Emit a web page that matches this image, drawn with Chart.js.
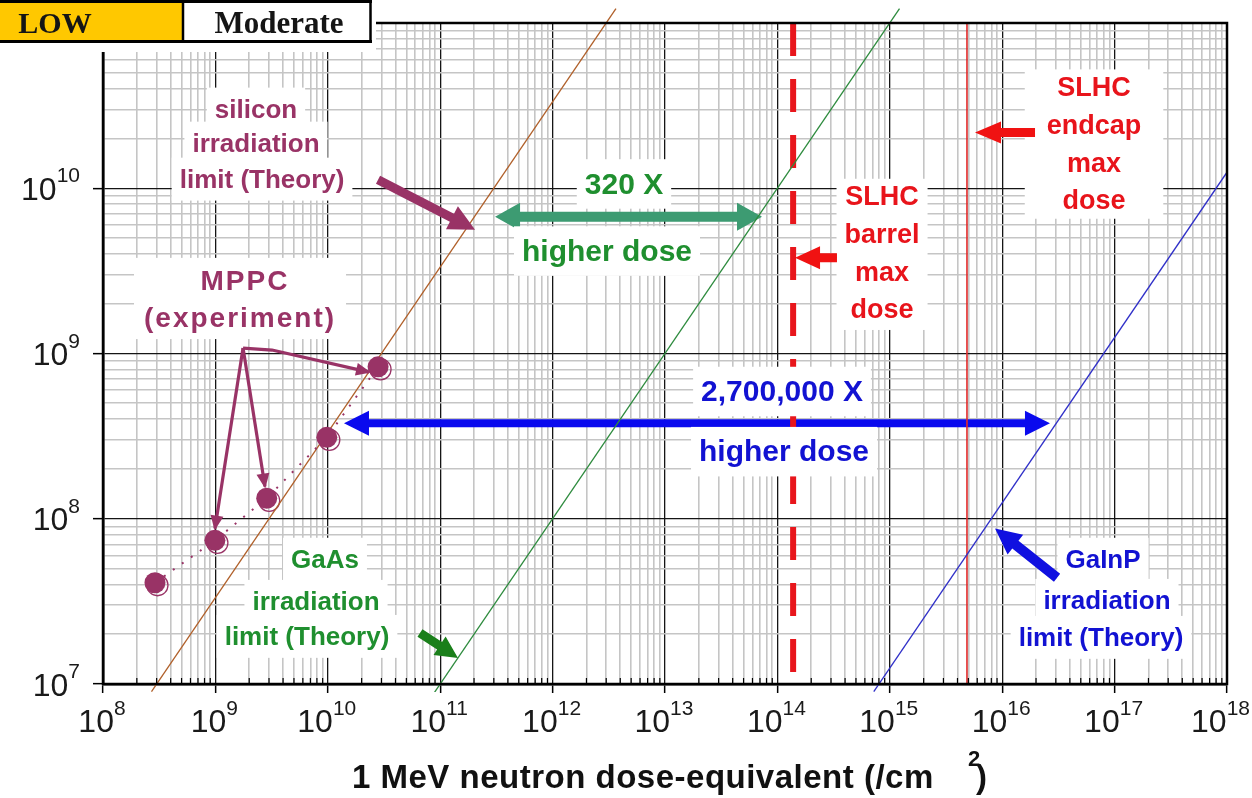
<!DOCTYPE html>
<html>
<head>
<meta charset="utf-8">
<title>Irradiation limits vs 1 MeV neutron dose</title>
<script src="https://cdn.jsdelivr.net/npm/chart.js@4.4.1/dist/chart.umd.min.js"></script>
<style>
html,body{margin:0;padding:0;background:#fff;}
#wrap{width:1252px;height:798px;}
canvas{display:block;}
</style>
</head>
<body>
<div id="wrap"><canvas id="chart" width="1252" height="798"></canvas></div>
<script>
// ---------- data ----------
const xTickExponents = [8, 9, 10, 11, 12, 13, 14, 15, 16, 17, 18];
const yTickExponents = [7, 8, 9, 10];
const yTopExponent = 11;
const minorSteps = [2, 3, 4, 5, 6, 7, 8, 9];

const mppcDose  = [2.9e8, 9.9e8, 2.86e9, 9.8e9, 2.8e10];
const mppcLimit = [4.1e7, 7.4e7, 1.33e8, 3.11e8, 8.3e8];

const siliconDose  = [2.7e8, 3.66e12];
const siliconLimit = [9.0e6, 1.22e11];
const gaasDose  = [8.5e10, 1.22e15];
const gaasLimit = [8.5e6, 1.22e11];
const gainpDose  = [7.2e14, 1.0e18];
const gainpLimit = [9.0e6, 1.25e10];

const barrelMaxDose = [1.38e14, 1.38e14];
const endcapMaxDose = [4.86e15, 4.86e15];
const doseLineSpan  = [1e11, 1e7];

const tableCells = ['LOW', 'Moderate'];
const axisTitle = '1 MeV neutron dose-equivalent (/cm';

// ---------- annotation config (positions in log10 data units) ----------
const FONT = '"Liberation Sans", Arial, Helvetica, sans-serif';
const SERIF = '"Liberation Serif", "Times New Roman", serif';
const PURPLE = '#993366', GREEN_T = '#1f8f2f', BLUE_T = '#1212d2', RED_T = '#e8141b';

const textBlocks = [
  {color: PURPLE, size: 26, box: 'line', lines: [['silicon', 9.361, 10.428], ['irradiation', 9.361, 10.222], ['limit (Theory)', 9.415, 10.004]]},
  {color: PURPLE, size: 28, spacing: 2, box: 'block', padX: 10, padTop: 32, padBottom: 12, lines: [['MPPC', 9.263, 9.385], ['(experiment)', 9.219, 9.160]]},
  {color: GREEN_T, size: 30, box: 'line', lines: [['320 X', 12.635, 9.967]]},
  {color: GREEN_T, size: 30, box: 'line', lines: [['higher dose', 12.484, 9.561]]},
  {color: BLUE_T, size: 30, box: 'line', lines: [['2,700,000 X', 14.041, 8.711]]},
  {color: BLUE_T, size: 30, box: 'line', lines: [['higher dose', 14.059, 8.347]]},
  {color: RED_T, size: 27, box: 'block', padX: 8, padTop: 26, padBottom: 12, lines: [['SLHC', 14.931, 9.900], ['barrel', 14.931, 9.670], ['max', 14.931, 9.439], ['dose', 14.931, 9.215]]},
  {color: RED_T, size: 27, box: 'block', padX: 22, padTop: 27, padBottom: 10, lines: [['SLHC', 16.817, 10.556], ['endcap', 16.817, 10.331], ['max', 16.817, 10.101], ['dose', 16.817, 9.876]]},
  {color: GREEN_T, size: 26, box: 'line', lines: [['GaAs', 9.975, 7.704], ['irradiation', 9.895, 7.449], ['limit (Theory)', 9.815, 7.237]]},
  {color: BLUE_T, size: 26, box: 'line', lines: [['GaInP', 16.897, 7.704], ['irradiation', 16.932, 7.455], ['limit (Theory)', 16.879, 7.231]]}
];

const fatArrows = [
  {from: [10.447, 10.052], to: [11.310, 9.749], color: PURPLE, shaft: 9, headLen: 26, headW: 26, layer: 'over'},
  {from: [11.488, 9.828], to: [13.863, 9.828], color: '#3d9b72', shaft: 10, headLen: 25, headW: 28, both: true, layer: 'under'},
  {from: [10.144, 8.578], to: [16.425, 8.578], color: '#0a0aee', shaft: 8, headLen: 25, headW: 25, both: true, layer: 'under'},
  {from: [16.292, 10.337], to: [15.758, 10.337], color: '#f01212', shaft: 9, headLen: 26, headW: 22, layer: 'over'},
  {from: [14.530, 9.579], to: [14.157, 9.579], color: '#f01212', shaft: 9, headLen: 25, headW: 23, layer: 'over'},
  {from: [10.820, 7.309], to: [11.158, 7.158], color: '#1a7f1a', shaft: 9, headLen: 22, headW: 22, layer: 'over'},
  {from: [16.488, 7.643], to: [15.936, 7.941], color: '#1010e0', shaft: 10, headLen: 26, headW: 25, layer: 'over'}
];

const thinArrows = [
  [[9.246, 9.033], [9.504, 9.021], [10.367, 8.887]],
  [[9.246, 9.033], [8.996, 7.941]],
  [[9.246, 9.033], [9.441, 8.195]]
];

// ---------- helpers ----------
function pairs(xs, ys) { return xs.map((x, i) => ({x: x, y: ys[i]})); }

function tickList(exps, topExp) {
  const t = [];
  exps.forEach(e => {
    t.push({value: Math.pow(10, e), major: true});
    minorSteps.forEach(m => t.push({value: m * Math.pow(10, e), major: false}));
  });
  if (topExp !== undefined) t.push({value: Math.pow(10, topExp), major: true});
  return t;
}
const xTicks = tickList(xTickExponents.slice(0, -1), xTickExponents[xTickExponents.length - 1]);
const yTicks = tickList(yTickExponents, yTopExponent);

function toPx(chart, p) {
  return [chart.scales.x.getPixelForValue(Math.pow(10, p[0])), chart.scales.y.getPixelForValue(Math.pow(10, p[1]))];
}

function fatArrow(ctx, a, b, o) {
  const dx = b[0] - a[0], dy = b[1] - a[1], L = Math.hypot(dx, dy);
  const ux = dx / L, uy = dy / L, nx = -uy, ny = ux;
  const s = o.shaft / 2, h = o.headW / 2, hl = o.headLen;
  const pts = [];
  const sbx = a[0] + ux * hl, sby = a[1] + uy * hl;
  if (o.both) pts.push([a[0], a[1]], [sbx + nx * h, sby + ny * h], [sbx + nx * s, sby + ny * s]);
  else pts.push([a[0] + nx * s, a[1] + ny * s]);
  const ex = b[0] - ux * hl, ey = b[1] - uy * hl;
  pts.push([ex + nx * s, ey + ny * s], [ex + nx * h, ey + ny * h], [b[0], b[1]], [ex - nx * h, ey - ny * h], [ex - nx * s, ey - ny * s]);
  if (o.both) pts.push([sbx - nx * s, sby - ny * s], [sbx - nx * h, sby - ny * h]);
  else pts.push([a[0] - nx * s, a[1] - ny * s]);
  ctx.beginPath();
  pts.forEach((p, i) => i ? ctx.lineTo(p[0], p[1]) : ctx.moveTo(p[0], p[1]));
  ctx.closePath();
  ctx.fillStyle = o.color;
  ctx.fill();
}

function thinArrow(ctx, pts) {
  ctx.beginPath();
  pts.forEach((p, i) => i ? ctx.lineTo(p[0], p[1]) : ctx.moveTo(p[0], p[1]));
  ctx.strokeStyle = PURPLE; ctx.lineWidth = 3.2; ctx.lineJoin = 'miter';
  ctx.stroke();
  const b = pts[pts.length - 1], a = pts[pts.length - 2];
  const dx = b[0] - a[0], dy = b[1] - a[1], L = Math.hypot(dx, dy);
  const ux = dx / L, uy = dy / L, nx = -uy, ny = ux;
  const hl = 13, h = 6.5;
  const ex = b[0] - ux * hl, ey = b[1] - uy * hl;
  ctx.beginPath();
  ctx.moveTo(b[0] + ux * 2, b[1] + uy * 2);
  ctx.lineTo(ex + nx * h, ey + ny * h);
  ctx.lineTo(ex - nx * h, ey - ny * h);
  ctx.closePath();
  ctx.fillStyle = PURPLE; ctx.fill();
}

function setFont(ctx, blk) {
  ctx.font = 'bold ' + blk.size + 'px ' + FONT;
  ctx.letterSpacing = (blk.spacing || 0) + 'px';
}

const gridColor = c => (c.tick && c.tick.major) ? '#151515' : '#c5c5c5';
const gridWidth = c => (c.tick && c.tick.major) ? 1.3 : 1.6;
const tickColor = c => (c.tick && c.tick.major) ? '#000' : 'rgba(0,0,0,0)';

const decorations = {
  id: 'decorations',
  beforeDatasetsDraw(chart) {
    const ctx = chart.ctx;
    ctx.save();
    fatArrows.filter(a => a.layer === 'under').forEach(a => fatArrow(ctx, toPx(chart, a.from), toPx(chart, a.to), a));
    const meta = chart.getDatasetMeta(0);
    meta.data.forEach(el => {
      ctx.beginPath();
      ctx.arc(el.x + 2.5, el.y + 2.5, 10.5, 0, Math.PI * 2);
      ctx.strokeStyle = PURPLE; ctx.lineWidth = 1.3; ctx.stroke();
    });
    ctx.restore();
  },
  afterDatasetsDraw(chart) {
    const ctx = chart.ctx;
    const area = chart.chartArea;
    const xs = chart.scales.x, ys = chart.scales.y;
    ctx.save();

    // white label backgrounds
    textBlocks.forEach(blk => {
      setFont(ctx, blk);
      const items = blk.lines.map(l => {
        const p = toPx(chart, [l[1], l[2]]);
        const w = ctx.measureText(l[0]).width;
        return {t: l[0], x: p[0], y: p[1], w: w};
      });
      blk._items = items;
      ctx.fillStyle = '#fff';
      if (blk.box === 'block') {
        let l = Infinity, r = -Infinity;
        items.forEach(it => { l = Math.min(l, it.x - it.w / 2); r = Math.max(r, it.x + it.w / 2); });
        const top = items[0].y - blk.padTop, bot = items[items.length - 1].y + blk.padBottom;
        ctx.fillRect(l - blk.padX, top, r - l + 2 * blk.padX, bot - top);
      } else {
        items.forEach(it => {
          ctx.fillRect(it.x - it.w / 2 - 8, it.y - blk.size * 1.15, it.w + 16, blk.size * 1.65);
        });
      }
    });
    // label texts
    textBlocks.forEach(blk => {
      setFont(ctx, blk);
      ctx.fillStyle = blk.color;
      ctx.textAlign = 'center';
      ctx.textBaseline = 'alphabetic';
      blk._items.forEach(it => ctx.fillText(it.t, it.x, it.y));
    });
    ctx.letterSpacing = '0px';

    // arrows on top
    fatArrows.filter(a => a.layer === 'over').forEach(a => fatArrow(ctx, toPx(chart, a.from), toPx(chart, a.to), a));
    thinArrows.forEach(pts => thinArrow(ctx, pts.map(p => toPx(chart, p))));

    // inner minor ticks on the x axis
    ctx.strokeStyle = '#000'; ctx.lineWidth = 1.2;
    xs.ticks.forEach(t => {
      if (t.major) return;
      const px = xs.getPixelForValue(t.value);
      ctx.beginPath(); ctx.moveTo(px, area.bottom); ctx.lineTo(px, area.bottom - 6); ctx.stroke();
    });
    // frame
    ctx.lineWidth = 2.5; ctx.strokeStyle = '#000';
    ctx.strokeRect(area.left, area.top, area.right - area.left, area.bottom - area.top);

    // tick labels with superscripts
    const EXP = '21px ' + FONT, BASE = '32px ' + FONT;
    ctx.fillStyle = '#1a1a1a';
    ctx.textBaseline = 'alphabetic';
    xTickExponents.forEach(e => {
      const px = xs.getPixelForValue(Math.pow(10, e));
      ctx.font = BASE; const w1 = ctx.measureText('10').width;
      ctx.font = EXP; const w2 = ctx.measureText(String(e)).width;
      let x0 = px - (w1 + w2) / 2 - 1;
      if (x0 + w1 + w2 > chart.width - 2) x0 = chart.width - 2 - w1 - w2;
      ctx.textAlign = 'left';
      ctx.font = BASE; ctx.fillText('10', x0, area.bottom + 47.5);
      ctx.font = EXP; ctx.fillText(String(e), x0 + w1, area.bottom + 31);
    });
    yTickExponents.forEach(e => {
      const py = ys.getPixelForValue(Math.pow(10, e));
      const right = area.left - 23;
      ctx.font = EXP; const w2 = ctx.measureText(String(e)).width;
      ctx.textAlign = 'right';
      ctx.fillText(String(e), right, py - 6);
      ctx.font = BASE; ctx.fillText('10', right - w2, py + 11.7);
    });

    // axis title
    ctx.textAlign = 'left';
    ctx.fillStyle = '#111';
    ctx.font = 'bold 33px ' + FONT;
    ctx.letterSpacing = '0.5px';
    ctx.fillText(axisTitle, 352, 788);
    ctx.letterSpacing = '0px';
    ctx.font = 'bold 22px ' + FONT;
    ctx.fillText('2', 968, 766);
    ctx.font = 'bold 33px ' + FONT;
    ctx.fillText(')', 976, 788);

    // LOW / Moderate table
    ctx.fillStyle = '#fff'; ctx.fillRect(0, 0, 376, 52);
    ctx.fillStyle = '#ffc800'; ctx.fillRect(0, 2, 183, 39);
    ctx.strokeStyle = '#000';
    ctx.lineWidth = 3;
    ctx.beginPath(); ctx.moveTo(0, 1.5); ctx.lineTo(372, 1.5); ctx.stroke();
    ctx.beginPath(); ctx.moveTo(0, 41.5); ctx.lineTo(372, 41.5); ctx.stroke();
    ctx.lineWidth = 2.5;
    ctx.beginPath(); ctx.moveTo(183, 0); ctx.lineTo(183, 42); ctx.stroke();
    ctx.beginPath(); ctx.moveTo(370.5, 0); ctx.lineTo(370.5, 43); ctx.stroke();
    ctx.fillStyle = '#151515';
    ctx.textAlign = 'center';
    ctx.font = 'bold 30px ' + SERIF;
    ctx.fillText(tableCells[0], 55, 33);
    ctx.font = 'bold 31px ' + SERIF;
    ctx.fillText(tableCells[1], 279, 33);

    ctx.restore();
  }
};

const lineClip = {left: 0, top: 15, right: 0, bottom: 8};

new Chart(document.getElementById('chart'), {
  type: 'scatter',
  data: {
    datasets: [
      {label: 'MPPC (experiment)', data: pairs(mppcDose, mppcLimit), showLine: true,
       borderColor: PURPLE, borderWidth: 2, borderDash: [2, 9], pointRadius: 10.5,
       pointBackgroundColor: PURPLE, pointBorderColor: PURPLE, pointBorderWidth: 0},
      {label: 'silicon irradiation limit (Theory)', data: pairs(siliconDose, siliconLimit), showLine: true,
       borderColor: '#b0602a', borderWidth: 1.3, pointRadius: 0, clip: lineClip},
      {label: 'GaAs irradiation limit (Theory)', data: pairs(gaasDose, gaasLimit), showLine: true,
       borderColor: '#2e8b3e', borderWidth: 1.3, pointRadius: 0, clip: lineClip},
      {label: 'GaInP irradiation limit (Theory)', data: pairs(gainpDose, gainpLimit), showLine: true,
       borderColor: '#3030c8', borderWidth: 1.3, pointRadius: 0, clip: lineClip},
      {label: 'SLHC barrel max dose', data: pairs(barrelMaxDose, doseLineSpan), showLine: true,
       borderColor: '#e8161c', borderWidth: 6, borderDash: [33, 23], borderCapStyle: 'butt', pointRadius: 0},
      {label: 'SLHC endcap max dose', data: pairs(endcapMaxDose, doseLineSpan), showLine: true,
       borderColor: '#e02a2a', borderWidth: 1.6, pointRadius: 0}
    ]
  },
  options: {
    responsive: false,
    animation: false,
    devicePixelRatio: 1,
    layout: {padding: {left: 93, right: 25, top: 23, bottom: 105}},
    plugins: {legend: {display: false}, tooltip: {enabled: false}},
    events: [],
    scales: {
      x: {
        type: 'logarithmic', min: 1e8, max: 1e18,
        afterBuildTicks: s => { s.ticks = xTicks.map(t => ({value: t.value, major: t.major})); },
        ticks: {display: false},
        grid: {color: gridColor, lineWidth: gridWidth, tickColor: tickColor, tickLength: 9, tickWidth: 1.5},
        border: {display: true, color: '#000', width: 2.5}
      },
      y: {
        type: 'logarithmic', min: 1e7, max: 1e11,
        afterBuildTicks: s => { s.ticks = yTicks.map(t => ({value: t.value, major: t.major})); },
        ticks: {display: false},
        grid: {color: gridColor, lineWidth: gridWidth, tickColor: tickColor, tickLength: 10, tickWidth: 1.5},
        border: {display: true, color: '#000', width: 2.5}
      }
    }
  },
  plugins: [decorations]
});
</script>
</body>
</html>
